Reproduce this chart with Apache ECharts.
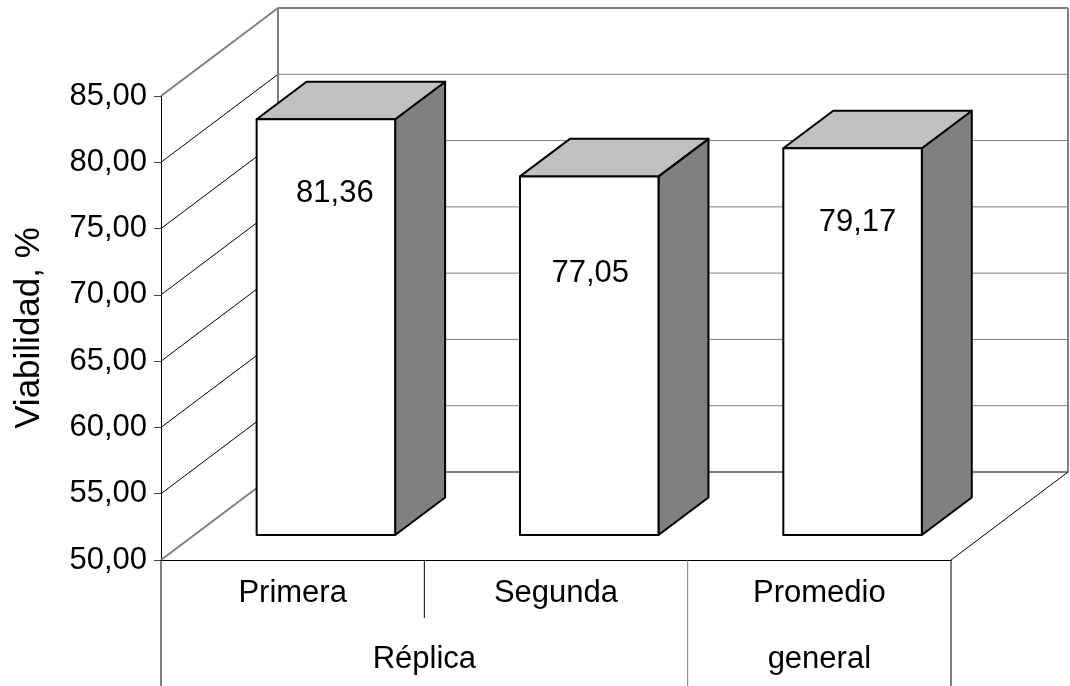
<!DOCTYPE html>
<html>
<head>
<meta charset="utf-8">
<script src="https://cdn.jsdelivr.net/npm/echarts@6/dist/echarts.min.js"></script>
<style>
  html, body { margin: 0; padding: 0; background: #fff; }
  #chart { width: 1070px; height: 686px; }
</style>
</head>
<body>
<div id="chart"></div>
<script>
// ---- data ----
const categories = ['Primera', 'Segunda', 'Promedio\ngeneral'];
const viabilidad = [81.36, 77.05, 79.17];
const groupLabel = 'Réplica';
const groupMembers = [0, 1];            // categories under the group label
const yTicks = [50, 55, 60, 65, 70, 75, 80, 85];
const axisTitle = 'Viabilidad, %';

// ---- layout / style ----
const FONT = '"Liberation Sans", Arial, sans-serif';
const DEPTH = [117, -88];     // oblique offset of the back wall (px)
const BAR_FRONT = 0.284;      // bar front face, as fraction of wall depth
const BAR_BACK = 0.711;       // bar back face, as fraction of wall depth
const BAR_WIDTH = 0.526;      // bar width as fraction of category band
const LABEL_NUDGE = [[9, 74], [1, 97], [5, 74]]; // label centre relative to front-face top centre
const ROW_H = 66;             // height of one row of the category table
const WALL = '#808080';

const fmt = v => v.toFixed(2).replace('.', ',');
const yMin = yTicks[0], yMax = yTicks[yTicks.length - 1];
const yStep = yTicks[1] - yTicks[0];

// back wall, side wall, floor and category table
function renderFrame(params, api) {
  const cs = params.coordSys;
  const L = cs.x, R = cs.x + cs.width, B = cs.y + cs.height;
  const [dx, dy] = DEPTH;
  const yOf = v => api.coord([0, v])[1];
  const line = (x1, y1, x2, y2, stroke, w) => ({
    type: 'line', shape: { x1, y1, x2, y2 },
    style: { stroke, lineWidth: w }, silent: true
  });
  const out = [];
  yTicks.forEach((v, i) => {
    const y = yOf(v);
    const edge = (i === 0 || i === yTicks.length - 1);
    // back wall line
    out.push(line(L + dx, y + dy, R + dx, y + dy, WALL, edge ? 2 : 1));
    // side wall line
    out.push(line(L, y, L + dx, y + dy, edge ? WALL : '#000', edge ? 2 : 1));
  });
  const yTop = yOf(yMax), yBot = yOf(yMin);
  out.push(line(L + dx, yTop + dy, L + dx, yBot + dy, WALL, 2));
  out.push(line(R + dx, yTop + dy, R + dx, yBot + dy, WALL, 2));
  // floor right edge
  out.push(line(R, B, R + dx, B + dy, '#000', 1));

  // category table below the floor
  const band = api.size([1, 0])[0];
  const bottom = api.getHeight();
  const first = groupMembers[0], last = groupMembers[groupMembers.length - 1];
  out.push(line(L, B, L, bottom, '#000', 1));
  for (let i = 1; i <= categories.length; i++) {
    const x = L + band * i;
    const inside = i > first && i <= last;
    out.push(line(x, B, x, inside ? B + ROW_H - 8 : bottom, i === last + 1 ? WALL : '#000', 1));
  }
  const gx = (api.coord([first, yMin])[0] + api.coord([last, yMin])[0]) / 2;
  out.push({
    type: 'text', silent: true,
    style: {
      text: groupLabel, x: gx, y: B + ROW_H * 1.5,
      align: 'center', verticalAlign: 'middle',
      font: '31px ' + FONT, fill: '#000'
    }
  });
  return { type: 'group', children: out };
}

// one oblique box per value
function renderBar(params, api) {
  const idx = api.value(0), v = api.value(1);
  const top = api.coord([idx, v]);
  const base = api.coord([idx, yMin]);
  const band = api.size([1, 0])[0];
  const w = band * BAR_WIDTH;
  const [dx, dy] = DEPTH;
  const x0 = top[0] - w / 2 + dx * BAR_FRONT, x1 = x0 + w;
  const yt = top[1] + dy * BAR_FRONT, yb = base[1] + dy * BAR_FRONT;
  const bx = dx * (BAR_BACK - BAR_FRONT), by = dy * (BAR_BACK - BAR_FRONT);
  const edge = { stroke: '#000', lineWidth: 2, lineJoin: 'round' };
  const nudge = LABEL_NUDGE[params.dataIndex];
  return {
    type: 'group',
    children: [
      { type: 'polygon', shape: { points: [[x1, yt], [x1 + bx, yt + by], [x1 + bx, yb + by], [x1, yb]] },
        style: Object.assign({ fill: '#808080' }, edge) },
      { type: 'polygon', shape: { points: [[x0, yt], [x0 + bx, yt + by], [x1 + bx, yt + by], [x1, yt]] },
        style: Object.assign({ fill: '#c0c0c0' }, edge) },
      { type: 'rect', shape: { x: x0, y: yt, width: w, height: yb - yt },
        style: Object.assign({ fill: '#fff' }, edge) },
      { type: 'text',
        style: { text: fmt(v), x: (x0 + x1) / 2 + nudge[0], y: yt + nudge[1],
                 align: 'center', verticalAlign: 'middle', font: '31px ' + FONT, fill: '#000' } }
    ]
  };
}

const chart = echarts.init(document.getElementById('chart'), null, { renderer: 'canvas' });
chart.setOption({
  animation: false,
  backgroundColor: '#fff',
  textStyle: { fontFamily: FONT },
  grid: { left: 161, right: 119, top: 96, bottom: 126, containLabel: false, outerBoundsMode: 'none' },
  xAxis: {
    type: 'category',
    data: categories,
    boundaryGap: true,
    axisLine: { show: true, lineStyle: { color: '#000', width: 1 } },
    axisTick: { show: false },
    axisLabel: {
      interval: 0, margin: 0, lineHeight: ROW_H,
      fontSize: 31, color: '#000', fontFamily: FONT
    },
    splitLine: { show: false }
  },
  yAxis: {
    type: 'value',
    min: yMin, max: yMax, interval: yStep,
    name: axisTitle,
    nameLocation: 'middle',
    nameRotate: 90,
    nameGap: 114,
    nameTextStyle: { fontSize: 35, color: '#000', fontFamily: FONT },
    axisLine: { show: true, lineStyle: { color: '#000', width: 1 } },
    axisTick: { show: true, length: 7, lineStyle: { color: '#404040' } },
    axisLabel: { margin: 14, fontSize: 31, color: '#000', fontFamily: FONT, formatter: fmt },
    splitLine: { show: false }
  },
  series: [
    {
      type: 'custom', name: 'frame', z: 1, silent: true,
      renderItem: renderFrame,
      data: [[0, yMin]]
    },
    {
      type: 'custom', name: 'Viabilidad', z: 2, silent: true,
      renderItem: renderBar,
      data: viabilidad.map((v, i) => [i, v])
    }
  ]
});
</script>
</body>
</html>
